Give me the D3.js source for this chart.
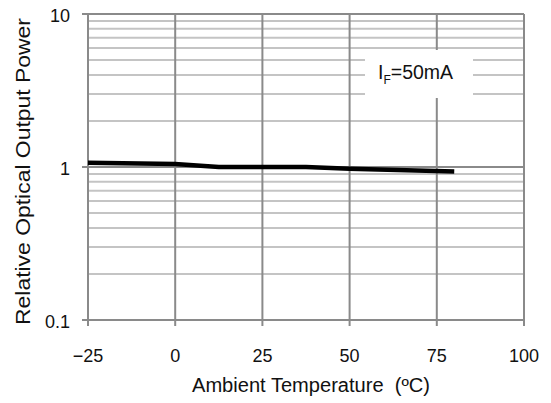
<!DOCTYPE html>
<html><head><meta charset="utf-8">
<script src="https://cdn.jsdelivr.net/npm/d3@7"></script>
<style>body{margin:0;background:#fff}svg{display:block}text{font-family:"Liberation Sans",Arial,sans-serif;fill:#111}</style>
</head><body>
<svg id="c" width="551" height="403"></svg>
<script>
const temps = [-25, 0, 12.5, 37.5, 50, 80];
const power = [1.065, 1.045, 1.0, 1.0, 0.975, 0.935];
const xTicks = [-25, 0, 25, 50, 75, 100];
const yTicks = [0.1, 1, 10];
const yTickLabels = ["0.1", "1", "10"];

const svg = d3.select("#c");
const m = {l: 88, r: 524, t: 14, b: 320};
const x = d3.scaleLinear().domain([-25, 100]).range([m.l, m.r]);
const y = d3.scaleLog().domain([0.1, 10]).range([m.b, m.t]);

const minor = [];
[0.1, 1].forEach(d => { for (let k = 2; k <= 9; k++) minor.push(d * k); });

const g = svg.append("g");
g.selectAll(".mn").data(minor).enter().append("line")
  .attr("x1", m.l).attr("x2", m.r).attr("y1", d => y(d)).attr("y2", d => y(d))
  .attr("stroke", "#c4c4c4").attr("stroke-width", 2);
g.selectAll(".mj").data(yTicks).enter().append("line")
  .attr("x1", m.l - 6).attr("x2", m.r).attr("y1", d => y(d)).attr("y2", d => y(d))
  .attr("stroke", "#8a8a8a").attr("stroke-width", 2);
g.selectAll(".vx").data(xTicks).enter().append("line")
  .attr("x1", d => x(d)).attr("x2", d => x(d)).attr("y1", m.t).attr("y2", m.b + 6)
  .attr("stroke", "#8a8a8a").attr("stroke-width", 2);

// label box
svg.append("rect").attr("x", 365).attr("y", 50).attr("width", 108).attr("height", 48).attr("fill", "#fff");
const lab = svg.append("text").attr("x", 378).attr("y", 79).attr("font-size", 19.5);
lab.append("tspan").text("I");
lab.append("tspan").attr("font-size", 12).attr("dy", 5).text("F");
lab.append("tspan").attr("dy", -5).text("=50mA");

// data line
svg.append("path").datum(temps.map((t, i) => [t, power[i]]))
  .attr("d", d3.line().x(d => x(d[0])).y(d => y(d[1])))
  .attr("fill", "none").attr("stroke", "#000").attr("stroke-width", 4.5);

// tick labels
svg.selectAll(".yl").data(yTicks).enter().append("text")
  .attr("x", 70).attr("y", d => y(d) + 8).attr("text-anchor", "end").attr("font-size", 18)
  .text((d, i) => yTickLabels[i]);
svg.selectAll(".xl").data(xTicks).enter().append("text")
  .attr("x", d => x(d)).attr("y", 362).attr("text-anchor", "middle").attr("font-size", 18)
  .text(d => d < 0 ? "\u2212" + Math.abs(d) : d);

svg.append("text").attr("x", 192).attr("y", 392).attr("font-size", 19.5)
  .attr("textLength", 238).attr("lengthAdjust", "spacingAndGlyphs")
  .text("Ambient Temperature\u00a0\u00a0(\u00baC)");
svg.append("text").attr("transform", "translate(30,325) rotate(-90)").attr("font-size", 20)
  .attr("textLength", 307).attr("lengthAdjust", "spacingAndGlyphs")
  .text("Relative Optical Output Power");
</script>
</body></html>
